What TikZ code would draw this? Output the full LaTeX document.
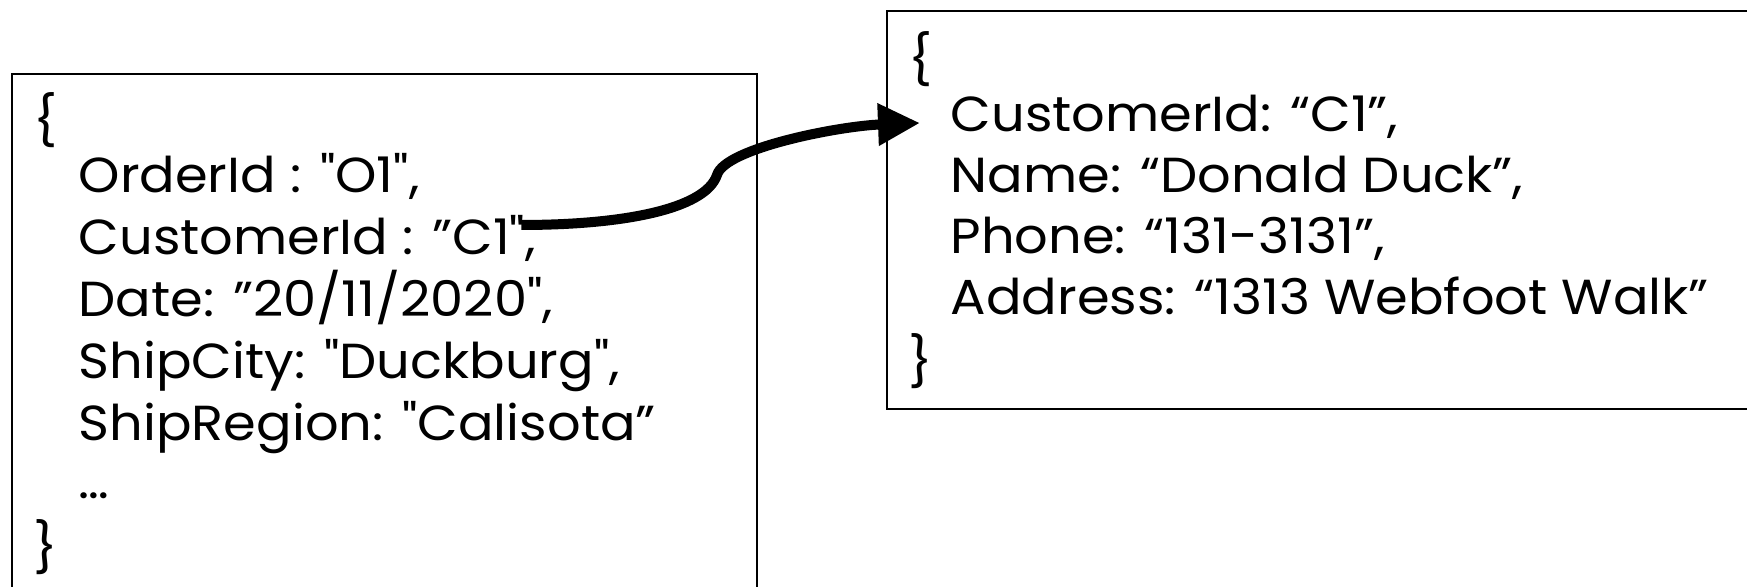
\documentclass[tikz,border=0pt]{standalone}
\usepackage{fontspec}
\setmainfont{Poppins}[Ligatures=TeXOff, FakeStretch=1.07]
\usetikzlibrary{arrows.meta}

\begin{document}
\begin{tikzpicture}[
  doc/.style  = {draw, line width=0.6pt, anchor=north west, inner sep=0pt},
  fld/.style  = {anchor=base west, inner sep=0pt, font=\fontsize{14}{16}\selectfont},
  link/.style = {-{Triangle[length=4.2mm, width=4mm]}, line width=1mm},
]
\useasboundingbox (0,0) rectangle (17.47,5.87);

% ── Order document (runs off the bottom) ──────────────────────────────────────
\node[doc, minimum width=7.45cm, minimum height=5.8cm] (ord) at (0.11,5.14) {};
\node[fld] (oopen) at (0.33,4.48) {\{};
\node[fld] (o1) at (0.78,3.94) {OrderId : "O1",};
\node[fld] (o2) at (0.78,3.32) {CustomerId : ”C1",};
\node[fld] (o3) at (0.78,2.70) {Date: ”20/11/2020",};
\node[fld] (o4) at (0.78,2.08) {ShipCity: "Duckburg",};
\node[fld] (o5) at (0.78,1.46) {ShipRegion: "Calisota”};
\node[fld] (o6) at (0.78,0.88) {…};
\node[fld] (oclose) at (0.33,0.21) {\}};

% ── Customer document (runs off the right) ────────────────────────────────────
\node[doc, minimum width=9cm, minimum height=3.98cm] (cus) at (8.86,5.77) {};
\node[fld] (copen) at (9.08,5.09) {\{};
\node[fld] (c1) at (9.50,4.55) {CustomerId: “C1”,};
\node[fld] (c2) at (9.50,3.94) {Name: “Donald Duck”,};
\node[fld] (c3) at (9.50,3.33) {Phone: “131-3131”,};
\node[fld] (c4) at (9.50,2.72) {Address: “1313 Webfoot Walk”};
\node[fld] (cclose) at (9.08,2.07) {\}};

% ── Reference from order to customer ──────────────────────────────────────────
\coordinate (src)  at ([shift={(-1.5mm,3mm)}]o2.base east);
\coordinate (bend) at (7.17,4.12);
\draw[link] (src) .. controls (6.20,3.62) and (7.05,3.77) .. (bend)
            .. controls (7.25,4.39) and (8.40,4.61) .. ([shift={(-3mm,0.9mm)}]c1.base west);

\end{tikzpicture}
\end{document}
